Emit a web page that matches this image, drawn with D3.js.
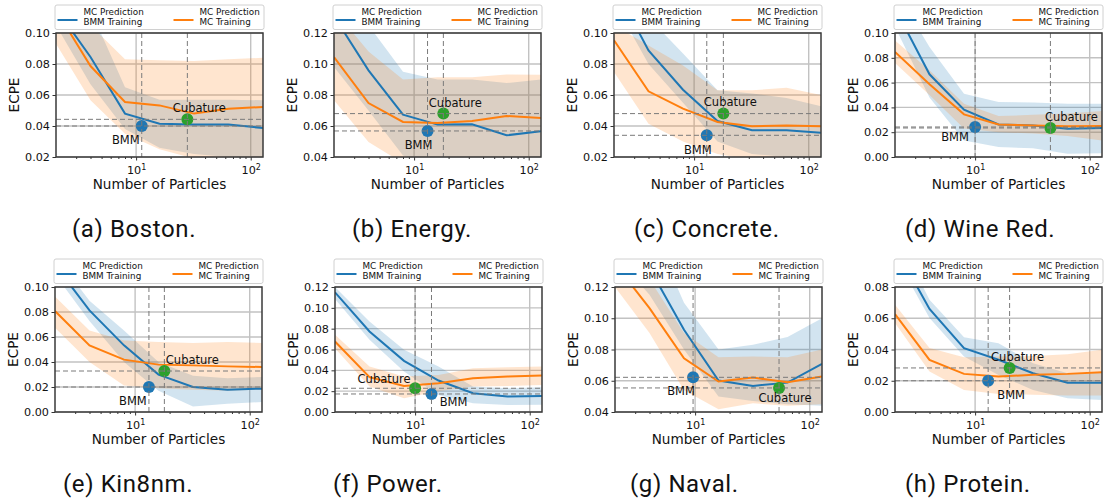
<!DOCTYPE html>
<html>
<head>
<meta charset="utf-8">
<script src="https://cdn.jsdelivr.net/npm/d3@7"></script>
<style>
  body { margin: 0; background: #fff; }
  svg { display: block; }
  text { font-family: "DejaVu Sans", sans-serif; fill: #111; }
</style>
</head>
<body>
<svg id="fig" width="1104" height="502"></svg>
<script>
/* données */
const particles = [2, 4, 8, 16, 32, 64, 128]

const captions = ['(a) Boston.', '(b) Energy.', '(c) Concrete.', '(d) Wine Red.',
                  '(e) Kin8nm.', '(f) Power.', '(g) Naval.', '(h) Protein.']

const yDomains = [[0.02, 0.10], [0.04, 0.12], [0.02, 0.10], [0.00, 0.10],
                  [0.00, 0.10], [0.00, 0.12], [0.04, 0.12], [0.00, 0.08]]

const yTickValues = [
  [0.02, 0.04, 0.06, 0.08, 0.10],
  [0.04, 0.06, 0.08, 0.10, 0.12],
  [0.02, 0.04, 0.06, 0.08, 0.10],
  [0.00, 0.02, 0.04, 0.06, 0.08, 0.10],
  [0.00, 0.02, 0.04, 0.06, 0.08, 0.10],
  [0.00, 0.02, 0.04, 0.06, 0.08, 0.10, 0.12],
  [0.04, 0.06, 0.08, 0.10, 0.12],
  [0.00, 0.02, 0.04, 0.06, 0.08]
]

const xMajorTicks = [10, 100]
const xMinorTicks = [3, 4, 5, 6, 7, 8, 9, 20, 30, 40, 50, 60, 70, 80, 90]

/* MC prediction, BMM training (bleu) */
const bmmMean = [
  [0.1158, 0.0845, 0.0480, 0.0415, 0.0409, 0.0409, 0.0387],
  [0.1308, 0.0959, 0.0673, 0.0609, 0.0611, 0.0540, 0.0566],
  [0.1307, 0.0888, 0.0634, 0.0432, 0.0372, 0.0372, 0.0357],
  [0.1200, 0.0667, 0.0382, 0.0263, 0.0255, 0.0228, 0.0234],
  [0.1176, 0.0813, 0.0533, 0.0299, 0.0200, 0.0179, 0.0187],
  [0.1149, 0.0773, 0.0491, 0.0302, 0.0180, 0.0148, 0.0154],
  [0.1600, 0.1320, 0.0926, 0.0601, 0.0567, 0.0588, 0.0708],
  [0.1057, 0.0659, 0.0409, 0.0334, 0.0248, 0.0188, 0.0188]
]
const bmmHigh = [
  [0.140, 0.115, 0.065, 0.057, 0.057, 0.057, 0.0566],
  [0.150, 0.125, 0.0950, 0.090, 0.090, 0.0877, 0.090],
  [0.140, 0.110, 0.0867, 0.063, 0.061, 0.058, 0.0527],
  [0.135, 0.0887, 0.051, 0.0444, 0.044, 0.043, 0.043],
  [0.125, 0.089, 0.0653, 0.040, 0.029, 0.027, 0.028],
  [0.120, 0.087, 0.0597, 0.0436, 0.0244, 0.0228, 0.0237],
  [0.180, 0.160, 0.110, 0.080, 0.083, 0.088, 0.100],
  [0.115, 0.0719, 0.0479, 0.044, 0.0312, 0.0248, 0.0252]
]
const bmmLow = [
  [0.105, 0.067, 0.038, 0.026, 0.022, 0.020, 0.018],
  [0.098, 0.070, 0.041, 0.035, 0.035, 0.032, 0.033],
  [0.120, 0.080, 0.055, 0.030, 0.022, 0.020, 0.019],
  [0.105, 0.048, 0.0134, 0.008, 0.007, 0.0027, 0.003],
  [0.110, 0.0728, 0.040, 0.017, 0.0045, 0.0067, 0.008],
  [0.1084, 0.0693, 0.0388, 0.0164, 0.0083, 0.0067, 0.007],
  [0.140, 0.115, 0.080, 0.050, 0.047, 0.045, 0.044],
  [0.100, 0.0601, 0.0355, 0.0237, 0.0141, 0.0088, 0.0077]
]

/* MC prediction, MC training (orange) */
const mcMean = [
  [0.1148, 0.0787, 0.0555, 0.0533, 0.0480, 0.0512, 0.0523],
  [0.1045, 0.0748, 0.0626, 0.0620, 0.0632, 0.0665, 0.0651],
  [0.0953, 0.0624, 0.0512, 0.0426, 0.0398, 0.0404, 0.0398],
  [0.0847, 0.0586, 0.0344, 0.0263, 0.0255, 0.0247, 0.0250],
  [0.0808, 0.0533, 0.0419, 0.0379, 0.0373, 0.0365, 0.0360],
  [0.0677, 0.0334, 0.0250, 0.0276, 0.0324, 0.0340, 0.0350],
  [0.1348, 0.1065, 0.0744, 0.0595, 0.0620, 0.0590, 0.0627],
  [0.0627, 0.0334, 0.0244, 0.0227, 0.0238, 0.0244, 0.0255]
]
const mcHigh = [
  [0.135, 0.105, 0.083, 0.0825, 0.082, 0.083, 0.084],
  [0.135, 0.108, 0.090, 0.0915, 0.0915, 0.0933, 0.093],
  [0.105, 0.092, 0.079, 0.063, 0.063, 0.0647, 0.060],
  [0.094, 0.070, 0.043, 0.033, 0.034, 0.035, 0.037],
  [0.0925, 0.0653, 0.0573, 0.056, 0.0552, 0.056, 0.0552],
  [0.0741, 0.0436, 0.034, 0.0356, 0.042, 0.043, 0.0436],
  [0.150, 0.125, 0.0905, 0.075, 0.0755, 0.075, 0.080],
  [0.0687, 0.0409, 0.0351, 0.0355, 0.0359, 0.037, 0.0398]
]
const mcLow = [
  [0.093, 0.0566, 0.035, 0.025, 0.019, 0.016, 0.015],
  [0.0766, 0.0497, 0.036, 0.030, 0.030, 0.030, 0.030],
  [0.0748, 0.0415, 0.030, 0.022, 0.018, 0.017, 0.017],
  [0.0758, 0.050, 0.023, 0.020, 0.019, 0.017, 0.0134],
  [0.0675, 0.040, 0.0213, 0.019, 0.0179, 0.017, 0.018],
  [0.0613, 0.0244, 0.0132, 0.020, 0.0244, 0.025, 0.026],
  [0.120, 0.0905, 0.054, 0.0417, 0.0456, 0.044, 0.045],
  [0.0569, 0.0259, 0.0141, 0.0116, 0.011, 0.0105, 0.0106]
]

/* points choisis [nombre de particules, ECPE] */
const bmmPoints = [[11.2, 0.040], [13.1, 0.0568], [12.9, 0.034], [10, 0.0242],
                   [13.2, 0.020], [13.9, 0.0173], [9.6, 0.0622], [13, 0.020]]
const cubPoints = [[28, 0.0443], [18, 0.068], [18, 0.048], [45.4, 0.0234],
                   [18, 0.0328], [10, 0.0228], [54, 0.0554], [20, 0.0282]]

/* mise en page */
const plotLeft = [56, 334, 614, 895, 55, 335, 615, 895]
const plotTop = [33, 33, 33, 33, 287, 287, 287, 287]
const plotH = [124, 124, 124, 124, 125, 125, 125, 125]
const plotW = 207
const captionX = [72, 352, 634, 905, 63, 333, 630, 905]
const captionY = [237, 237, 237, 237, 492, 492, 492, 492]
/* décalage des étiquettes par rapport au point (px) */
const bmmLabelOffset = [[-16, 14], [-9, 14], [-9, 15], [-20, 10], [-16, 14], [22, 8], [-12, 14], [23, 14]]
const cubLabelOffset = [[12, -11], [12, -11], [7, -12], [21, -11], [28, -11], [-31, -9], [6, 10], [8, -11]]

const blue = '#1f77b4', orange = '#ff7f0e', green = '#2ca02c'
const svg = d3.select('#fig')

const drawPanel = (i) => {
  const x0 = plotLeft[i], y0 = plotTop[i], h = plotH[i]
  const xScale = d3.scaleLog().domain([2, 128]).range([x0, x0 + plotW])
  const yScale = d3.scaleLinear().domain(yDomains[i]).range([y0 + h, y0])
  const g = svg.append('g')

  g.append('clipPath').attr('id', 'clip' + i)
    .append('rect').attr('x', x0).attr('y', y0).attr('width', plotW).attr('height', h)

  /* grille */
  g.selectAll('.hgrid').data(yTickValues[i]).enter().append('line')
    .attr('x1', x0).attr('x2', x0 + plotW)
    .attr('y1', d => yScale(d)).attr('y2', d => yScale(d))
    .attr('stroke', '#c2c2c2').attr('stroke-width', 1.4)
  g.selectAll('.vgrid').data(xMajorTicks).enter().append('line')
    .attr('x1', d => xScale(d)).attr('x2', d => xScale(d))
    .attr('y1', y0).attr('y2', y0 + h)
    .attr('stroke', '#c2c2c2').attr('stroke-width', 1.4)

  const plot = g.append('g').attr('clip-path', `url(#clip${i})`)

  const series = (mean, low, high) => particles.map((n, k) => ({ n, m: mean[i][k], lo: low[i][k], hi: high[i][k] }))
  const bmm = series(bmmMean, bmmLow, bmmHigh)
  const mc = series(mcMean, mcLow, mcHigh)

  const area = d3.area().x(d => xScale(d.n)).y0(d => yScale(d.lo)).y1(d => yScale(d.hi))
  const line = d3.line().x(d => xScale(d.n)).y(d => yScale(d.m))

  plot.append('path').datum(bmm).attr('d', area).attr('fill', blue).attr('fill-opacity', 0.2)
  plot.append('path').datum(mc).attr('d', area).attr('fill', orange).attr('fill-opacity', 0.2)
  plot.append('path').datum(bmm).attr('d', line).attr('fill', 'none').attr('stroke', blue).attr('stroke-width', 2)
  plot.append('path').datum(mc).attr('d', line).attr('fill', 'none').attr('stroke', orange).attr('stroke-width', 2)

  /* points BMM et Cubature */
  const pts = [{ p: bmmPoints[i], c: blue }, { p: cubPoints[i], c: green }]
  plot.selectAll('.pt').data(pts).enter().append('circle')
    .attr('cx', d => xScale(d.p[0])).attr('cy', d => yScale(d.p[1]))
    .attr('r', 6).attr('fill', d => d.c)

  /* lignes pointillées */
  plot.selectAll('.hdash').data(pts).enter().append('line')
    .attr('x1', x0).attr('x2', x0 + plotW)
    .attr('y1', d => yScale(d.p[1])).attr('y2', d => yScale(d.p[1]))
    .attr('stroke', '#7a7a7a').attr('stroke-width', 1).attr('stroke-dasharray', '5,3')
  plot.selectAll('.vdash').data(pts).enter().append('line')
    .attr('x1', d => xScale(d.p[0])).attr('x2', d => xScale(d.p[0]))
    .attr('y1', y0).attr('y2', y0 + h)
    .attr('stroke', '#7a7a7a').attr('stroke-width', 1).attr('stroke-dasharray', '5,3')

  /* étiquettes */
  const labels = [
    { t: 'BMM', p: bmmPoints[i], o: bmmLabelOffset[i] },
    { t: 'Cubature', p: cubPoints[i], o: cubLabelOffset[i] }
  ]
  g.selectAll('.lbl').data(labels).enter().append('text')
    .attr('x', d => xScale(d.p[0]) + d.o[0])
    .attr('y', d => yScale(d.p[1]) + d.o[1])
    .attr('text-anchor', 'middle').attr('dominant-baseline', 'central')
    .style('font-size', '11.5px')
    .text(d => d.t)

  /* axes */
  const yAxis = d3.axisLeft(yScale).tickValues(yTickValues[i])
    .tickFormat(d3.format('.2f')).tickSize(3.5).tickPadding(2.5)
  const ya = g.append('g').attr('transform', `translate(${x0},0)`).call(yAxis)

  const xAxis = d3.axisBottom(xScale).tickValues(xMajorTicks)
    .tickFormat(() => '10').tickSize(3.5).tickPadding(5.5)
  const xa = g.append('g').attr('transform', `translate(0,${y0 + h})`).call(xAxis)
  xa.selectAll('.tick text').append('tspan')
    .attr('dy', '-0.45em')
    .text(d => Math.round(Math.log10(d)))

  const xMinor = d3.axisBottom(xScale).tickValues(xMinorTicks).tickFormat('').tickSize(2)
  const xm = g.append('g').attr('transform', `translate(0,${y0 + h})`).call(xMinor)

  ;[ya, xa, xm].forEach(a => {
    a.select('.domain').remove()
    a.selectAll('line').attr('stroke', '#333').attr('stroke-width', 1)
    a.selectAll('text').style('font-size', '11.2px').style('font-family', '"DejaVu Sans", sans-serif').attr('fill', '#111')
  })
  xa.selectAll('tspan').style('font-size', '8px')

  /* titres des axes */
  g.append('text')
    .attr('x', x0 + plotW / 2).attr('y', y0 + h + 32)
    .attr('text-anchor', 'middle').style('font-size', '13.6px')
    .text('Number of Particles')
  g.append('text')
    .attr('transform', `translate(${x0 - 37},${y0 + h / 2}) rotate(-90)`)
    .attr('text-anchor', 'middle').style('font-size', '13.6px')
    .text('ECPE')

  /* cadre */
  g.append('rect').attr('x', x0).attr('y', y0).attr('width', plotW).attr('height', h)
    .attr('fill', 'none').attr('stroke', '#3a3a3a').attr('stroke-width', 1.5)

  /* légende */
  const lg = g.append('g')
  lg.append('rect')
    .attr('x', x0 - 1).attr('y', y0 - 28).attr('width', plotW + 2).attr('height', 24.5)
    .attr('rx', 2).attr('fill', '#fff').attr('stroke', '#d0d0d0').attr('stroke-width', 1)
  const entries = [
    { c: blue, dx: 1.5, l: ['MC Prediction', 'BMM Training'] },
    { c: orange, dx: 117.5, l: ['MC Prediction', 'MC Training'] }
  ]
  entries.forEach(e => {
    lg.append('line')
      .attr('x1', x0 + e.dx).attr('x2', x0 + e.dx + 20)
      .attr('y1', y0 - 13).attr('y2', y0 - 13)
      .attr('stroke', e.c).attr('stroke-width', 2)
    e.l.forEach((s, k) => {
      lg.append('text')
        .attr('x', x0 + e.dx + 26).attr('y', y0 - 18 + k * 10)
        .style('font-size', '8.8px')
        .text(s)
    })
  })

  /* sous-titre */
  svg.append('text')
    .attr('x', captionX[i]).attr('y', captionY[i])
    .style('font-family', 'Roboto, sans-serif').style('font-size', '24px')
    .style('letter-spacing', '0.6px')
    .text(captions[i])
}

for (let i = 0; i < 8; i++) {
  drawPanel(i)
}
</script>
</body>
</html>
